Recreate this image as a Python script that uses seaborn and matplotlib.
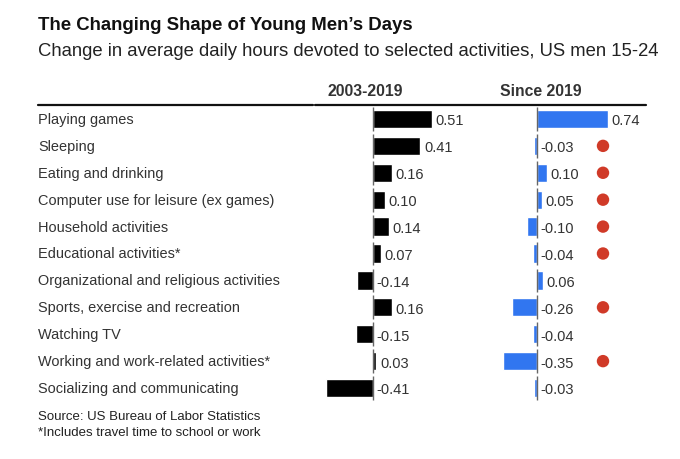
import matplotlib
matplotlib.use("Agg")
import matplotlib.pyplot as plt
import matplotlib.transforms as mtransforms
from matplotlib.lines import Line2D
import seaborn as sns
import pandas as pd

sns.set_theme(style="white")
plt.rcParams["font.family"] = ["Liberation Sans", "DejaVu Sans"]

activities = [
    "Playing games",
    "Sleeping",
    "Eating and drinking",
    "Computer use for leisure (ex games)",
    "Household activities",
    "Educational activities*",
    "Organizational and religious activities",
    "Sports, exercise and recreation",
    "Watching TV",
    "Working and work-related activities*",
    "Socializing and communicating",
]
change_2003_2019 = [0.51, 0.41, 0.16, 0.10, 0.14, 0.07, -0.14, 0.16, -0.15, 0.03, -0.41]
change_since_2019 = [0.74, -0.03, 0.10, 0.05, -0.10, -0.04, 0.06, -0.26, -0.04, -0.35, -0.03]
significant = [False, True, True, True, True, True, False, True, False, True, False]

df = pd.DataFrame({
    "activity": activities,
    "a": change_2003_2019,
    "b": change_since_2019,
    "sig": significant,
})

W, H = 680, 460
fig = plt.figure(figsize=(W / 100, H / 100), dpi=100)

def fx(px):
    return px / W

def fy(py):
    return 1 - py / H

top_px, bot_px = 106.5, 402.5
axL = fig.add_axes([fx(314), fy(bot_px), fx(470 - 314), (bot_px - top_px) / H])
axR = fig.add_axes([fx(480), fy(bot_px), fx(650 - 480), (bot_px - top_px) / H])

sns.barplot(data=df, x="a", y="activity", orient="h", color="#000000",
            width=0.68, ax=axL, saturation=1)
sns.barplot(data=df, x="b", y="activity", orient="h", color="#3176F0",
            width=0.68, ax=axR, saturation=1)

axL.set_xlim((314 - 373) / 115.7, (470 - 373) / 115.7)
axR.set_xlim((480 - 537) / 96.0, (650 - 537) / 96.0)

n = len(activities)
for ax, col in ((axL, "a"), (axR, "b")):
    ax.set_ylim(n - 0.5, -0.5)
    ax.axis("off")
    ax.vlines([0] * n, [i - 0.44 for i in range(n)], [i + 0.44 for i in range(n)],
              color="#666666", lw=1.0, zorder=3)
    for i, v in enumerate(df[col]):
        x0 = max(v, 0)
        ax.annotate(f"{v:.2f}", (x0, i), xytext=(2.5, -1), textcoords="offset points",
                    va="center", ha="left", fontsize=10.5, color="#333333")

# significance dots
sig_idx = [i for i, s in enumerate(significant) if s]
axR.scatter([0.6875] * len(sig_idx), sig_idx, s=80, color="#D03A28",
            edgecolor="none", zorder=4, clip_on=False)

# row labels
tr = mtransforms.blended_transform_factory(fig.transFigure, axL.transData)
for i, lab in enumerate(activities):
    axL.text(fx(38), i, lab, transform=tr, va="center", ha="left",
             fontsize=10.45, color="#333333")

# titles
fig.text(fx(38), fy(25), "The Changing Shape of Young Men\u2019s Days",
         fontsize=13.4, fontweight="bold", color="#111111", va="center", ha="left")
fig.text(fx(38), fy(52), "Change in average daily hours devoted to selected activities, US men 15-24",
         fontsize=13.3, color="#222222", va="center", ha="left")

fig.text(fx(365), fy(91), "2003-2019", fontsize=11.3, fontweight="bold",
         color="#333333", ha="center", va="center")
fig.text(fx(541), fy(91), "Since 2019", fontsize=11.3, fontweight="bold",
         color="#333333", ha="center", va="center")

fig.add_artist(Line2D([fx(38), fx(313)], [fy(106), fy(106)], color="#111111", lw=1.6))
fig.add_artist(Line2D([fx(315), fx(646)], [fy(106), fy(106)], color="#111111", lw=1.6))

fig.text(fx(38), fy(417), "Source: US Bureau of Labor Statistics", fontsize=9.5,
         color="#222222", ha="left", va="center")
fig.text(fx(38), fy(433), "*Includes travel time to school or work", fontsize=9.5,
         color="#222222", ha="left", va="center")

fig.savefig("out.png", dpi=100, facecolor="white")
